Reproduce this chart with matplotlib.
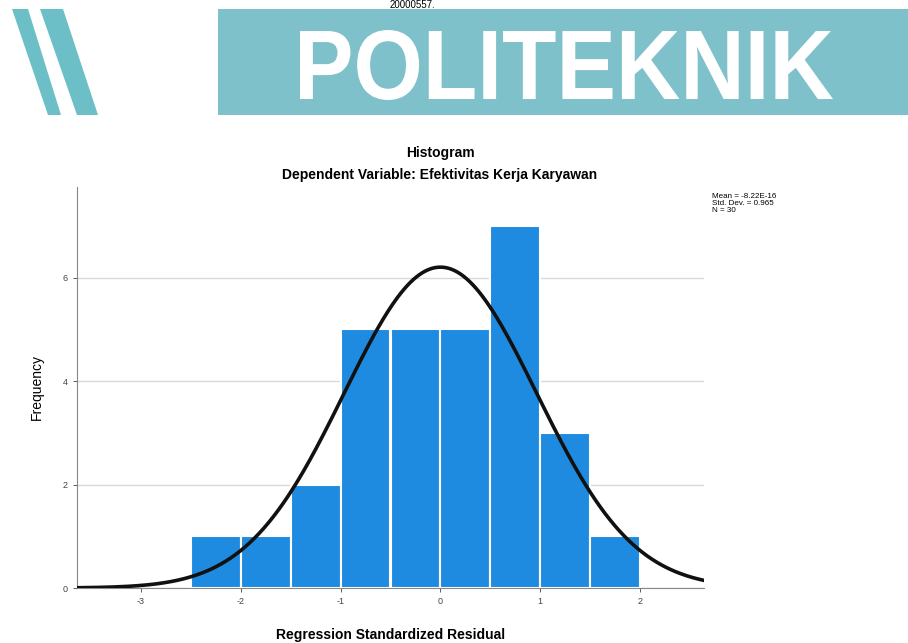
import numpy as np
import matplotlib
matplotlib.use("Agg")
import matplotlib.pyplot as plt
from matplotlib.patches import Rectangle, Polygon, PathPatch
from matplotlib.textpath import TextPath
from matplotlib.font_manager import FontProperties
from matplotlib.transforms import Affine2D

plt.rcParams['font.family'] = ['Liberation Sans', 'DejaVu Sans']
plt.rcParams['axes.unicode_minus'] = False

# histogram data (SPSS regression residuals)
bin_left = [-2.5, -2.0, -1.5, -1.0, -0.5, 0.0, 0.5, 1.0, 1.5]
counts = [1, 1, 2, 5, 5, 5, 7, 3, 1]
bin_width = 0.5
mean, sd, n = -8.22e-16, 0.965, 30
x_ticks = [-3, -2, -1, 0, 1, 2]
y_ticks = [0, 2, 4, 6]

W, H = 908, 643
fig = plt.figure(figsize=(W / 100, H / 100), dpi=100)

# page decoration: banner + stripes (pixel coords)
deco = fig.add_axes([0, 0, 1, 1])
deco.set_xlim(0, W)
deco.set_ylim(H, 0)
deco.axis("off")
teal = "#7fc1ca"
deco.add_patch(Rectangle((218, 9), W - 218, 106, color=teal, lw=0))
deco.add_patch(Polygon([(12, 9), (28, 9), (61, 115), (48, 115)], color="#6cbfc6", lw=0))
deco.add_patch(Polygon([(40, 9), (63, 9), (98, 115), (77, 115)], color="#6cbfc6", lw=0))

# condensed banner word: scale a text path to the box it fills in the reference
tp = TextPath((0, 0), "POLITEKNIK", size=100,
              prop=FontProperties(family="Liberation Sans", weight="bold"))
bb = tp.get_extents()
sx = (833 - 300) / bb.width
sy = (100 - 30) / bb.height
tr = Affine2D().translate(-bb.x0, -bb.y0).scale(sx, -sy).translate(300, 100)
deco.add_patch(PathPatch(tr.transform_path(tp), color="white", lw=0))
deco.text(412, 0, "20000557.", color="black", fontsize=7, ha="center", va="top")

ax = fig.add_axes([77 / W, 1 - 588 / H, (704 - 77) / W, (588 - 187) / H])
ax.set_xlim(-3.64, 2.64)
ax.set_ylim(0, 7.75)
ax.yaxis.grid(True, color="#d9d9d9", lw=1)
ax.set_axisbelow(True)
ax.bar(bin_left, counts, width=bin_width, align="edge", color="#1f8be0",
       edgecolor="white", lw=1.5, zorder=2)

xs = np.linspace(-3.64, 2.64, 400)
ys = n * bin_width / (sd * np.sqrt(2 * np.pi)) * np.exp(-0.5 * ((xs - mean) / sd) ** 2)
ax.plot(xs, ys, color="#111111", lw=2.6, zorder=3)

for s in ("top", "right"):
    ax.spines[s].set_visible(False)
for s in ("left", "bottom"):
    ax.spines[s].set_color("#888888")
ax.set_xticks(x_ticks)
ax.set_yticks(y_ticks)
ax.tick_params(labelsize=6.5, colors="#444444", length=3, width=0.6)
ax.set_xlabel("Regression Standardized Residual", fontsize=10, fontweight="bold", labelpad=16)
ax.set_ylabel("Frequency", fontsize=10, labelpad=14)

fig.text(440 / W, 1 - 153 / H, "Histogram", ha="center", va="center",
         fontsize=10, fontweight="bold")
fig.text(440 / W, 1 - 175 / H, "Dependent Variable: Efektivitas Kerja Karyawan",
         ha="center", va="center", fontsize=10, fontweight="bold")
fig.text(712 / W, 1 - 193 / H, "Mean = -8.22E-16\nStd. Dev. = 0.965\nN = 30",
         ha="left", va="top", fontsize=5.8, linespacing=1.0)

fig.savefig("out.png", dpi=100)
